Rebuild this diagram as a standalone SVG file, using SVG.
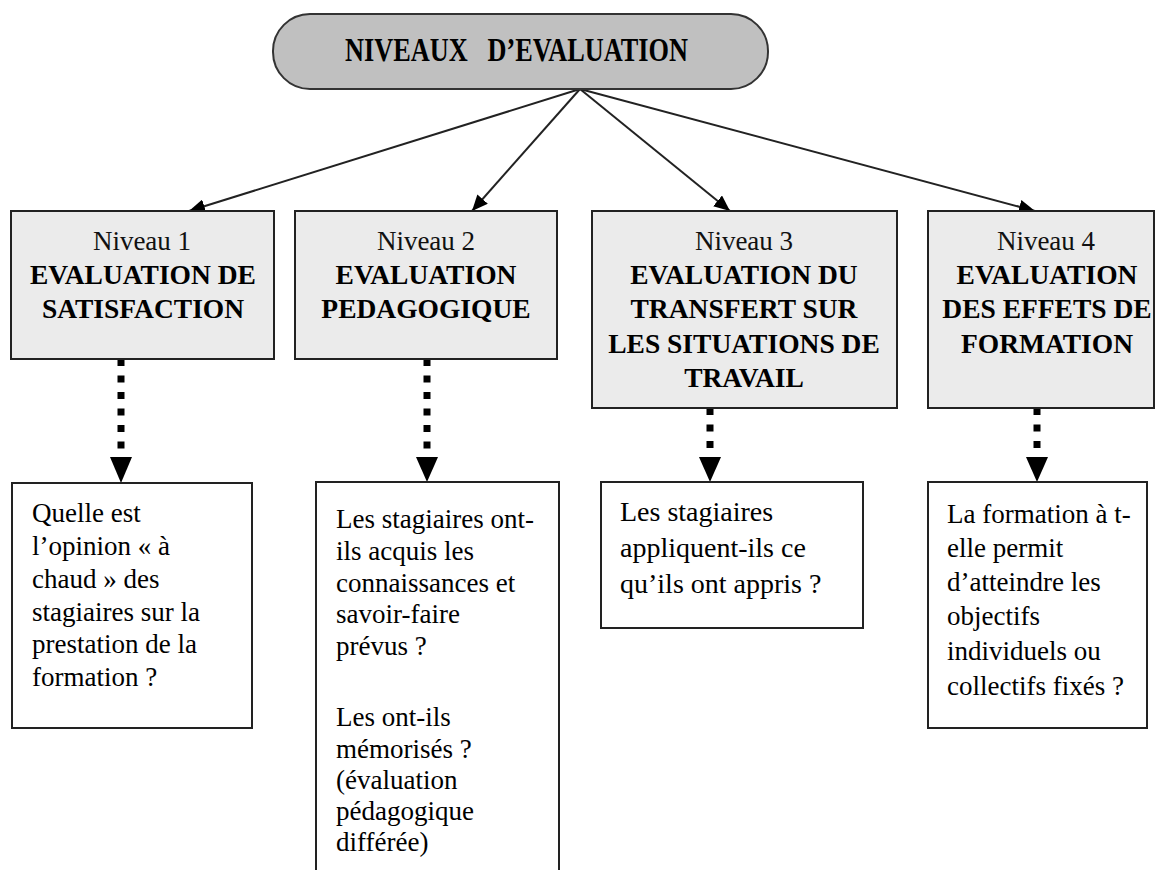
<svg xmlns="http://www.w3.org/2000/svg" width="1157" height="870" viewBox="0 0 1157 870">
  <style>
    .title { font-family: "Liberation Serif", "Times New Roman", serif; font-weight: 700; font-size: 34px; fill: #000; }
    .lvl { fill: #ebebeb; stroke: #222; stroke-width: 2; }
    .q { fill: #fff; stroke: #222; stroke-width: 2; }
    .hn { font-family: "Liberation Serif", "Times New Roman", serif; font-size: 27px; fill: #111; text-anchor: middle; }
    .hb { font-family: "Liberation Serif", "Times New Roman", serif; font-size: 27.5px; font-weight: 700; fill: #000; text-anchor: middle; }
    .qt { font-family: "Liberation Serif", "Times New Roman", serif; font-size: 27px; fill: #000; }
    .solid { stroke: #222; stroke-width: 2; fill: none; }
    .dots { stroke: #000; stroke-width: 7; stroke-dasharray: 7 9.5; fill: none; }
  </style>
  <defs>
    <marker id="arrow" markerUnits="userSpaceOnUse" markerWidth="18" markerHeight="14" refX="16" refY="7" orient="auto">
      <path d="M0,0 L16,7 L0,14 Z" fill="#000"/>
    </marker>
  </defs>

  <rect width="1157" height="870" fill="#fff"/>

  <!-- connectors -->
  <g id="connectors">
    <line class="solid" x1="580" y1="89" x2="189" y2="211" marker-end="url(#arrow)"/>
    <line class="solid" x1="580" y1="89" x2="472" y2="211" marker-end="url(#arrow)"/>
    <line class="solid" x1="580" y1="89" x2="730" y2="211" marker-end="url(#arrow)"/>
    <line class="solid" x1="580" y1="89" x2="1035" y2="211" marker-end="url(#arrow)"/>

    <line class="dots" x1="121" y1="359" x2="121" y2="456"/>
    <path d="M110,457 L132,457 L121,483 Z" fill="#000"/>
    <line class="dots" x1="427" y1="359" x2="427" y2="456"/>
    <path d="M416,457 L438,457 L427,482 Z" fill="#000"/>
    <line class="dots" x1="710" y1="408" x2="710" y2="456"/>
    <path d="M699,457 L721,457 L710,482 Z" fill="#000"/>
    <line class="dots" x1="1037" y1="408" x2="1037" y2="456"/>
    <path d="M1026,457 L1048,457 L1037,482 Z" fill="#000"/>
  </g>

  <!-- top node -->
  <g id="root">
    <rect x="273" y="14" width="495" height="75" rx="37" ry="37" fill="#c0c0c0" stroke="#333" stroke-width="2"/>
    <text class="title" x="345" y="61" textLength="343" lengthAdjust="spacingAndGlyphs" xml:space="preserve">NIVEAUX   D’EVALUATION</text>
  </g>

  <!-- level 1 -->
  <g id="level1">
    <rect class="lvl" x="11" y="211" width="263" height="148"/>
    <text class="hn" x="142" y="250">Niveau 1</text>
    <text class="hb" x="143" y="284">EVALUATION DE</text>
    <text class="hb" x="143" y="318">SATISFACTION</text>
  </g>

  <!-- level 2 -->
  <g id="level2">
    <rect class="lvl" x="295" y="211" width="262" height="148"/>
    <text class="hn" x="426" y="250">Niveau 2</text>
    <text class="hb" x="426" y="284">EVALUATION</text>
    <text class="hb" x="426" y="318">PEDAGOGIQUE</text>
  </g>

  <!-- level 3 -->
  <g id="level3">
    <rect class="lvl" x="592" y="211" width="305" height="197"/>
    <text class="hn" x="744" y="250">Niveau 3</text>
    <text class="hb" x="744" y="284">EVALUATION DU</text>
    <text class="hb" x="744" y="318">TRANSFERT SUR</text>
    <text class="hb" x="744" y="353">LES SITUATIONS DE</text>
    <text class="hb" x="744" y="387">TRAVAIL</text>
  </g>

  <!-- level 4 -->
  <g id="level4">
    <rect class="lvl" x="928" y="211" width="226" height="197"/>
    <text class="hn" x="1046" y="250">Niveau 4</text>
    <text class="hb" x="1047" y="284">EVALUATION</text>
    <text class="hb" x="1047" y="318">DES EFFETS DE</text>
    <text class="hb" x="1047" y="353">FORMATION</text>
  </g>

  <!-- question 1 -->
  <g id="question1">
    <rect class="q" x="12" y="483" width="240" height="245"/>
    <text class="qt" x="32" y="522">Quelle est</text>
    <text class="qt" x="32" y="555">l’opinion « à</text>
    <text class="qt" x="32" y="588">chaud » des</text>
    <text class="qt" x="32" y="621">stagiaires sur la</text>
    <text class="qt" x="32" y="653">prestation de la</text>
    <text class="qt" x="32" y="686">formation ?</text>
  </g>

  <!-- question 2 -->
  <g id="question2">
    <rect class="q" x="316" y="482" width="243" height="400"/>
    <text class="qt" x="336" y="528">Les stagiaires ont-</text>
    <text class="qt" x="336" y="560">ils acquis les</text>
    <text class="qt" x="336" y="592">connaissances et</text>
    <text class="qt" x="336" y="623">savoir-faire</text>
    <text class="qt" x="336" y="655">prévus ?</text>
    <text class="qt" x="336" y="726">Les ont-ils</text>
    <text class="qt" x="336" y="758">mémorisés ?</text>
    <text class="qt" x="336" y="789">(évaluation</text>
    <text class="qt" x="336" y="820">pédagogique</text>
    <text class="qt" x="336" y="851">différée)</text>
  </g>

  <!-- question 3 -->
  <g id="question3">
    <rect class="q" x="601" y="482" width="262" height="146"/>
    <text class="qt" x="620" y="521" style="font-size:28px">Les stagiaires</text>
    <text class="qt" x="620" y="557" style="font-size:28px">appliquent-ils ce</text>
    <text class="qt" x="620" y="593" style="font-size:28px">qu’ils ont appris ?</text>
  </g>

  <!-- question 4 -->
  <g id="question4">
    <rect class="q" x="928" y="482" width="219" height="246"/>
    <text class="qt" x="947" y="523">La formation à t-</text>
    <text class="qt" x="947" y="557">elle permit</text>
    <text class="qt" x="947" y="591">d’atteindre les</text>
    <text class="qt" x="947" y="625">objectifs</text>
    <text class="qt" x="947" y="660">individuels ou</text>
    <text class="qt" x="947" y="695">collectifs fixés ?</text>
  </g>
</svg>
